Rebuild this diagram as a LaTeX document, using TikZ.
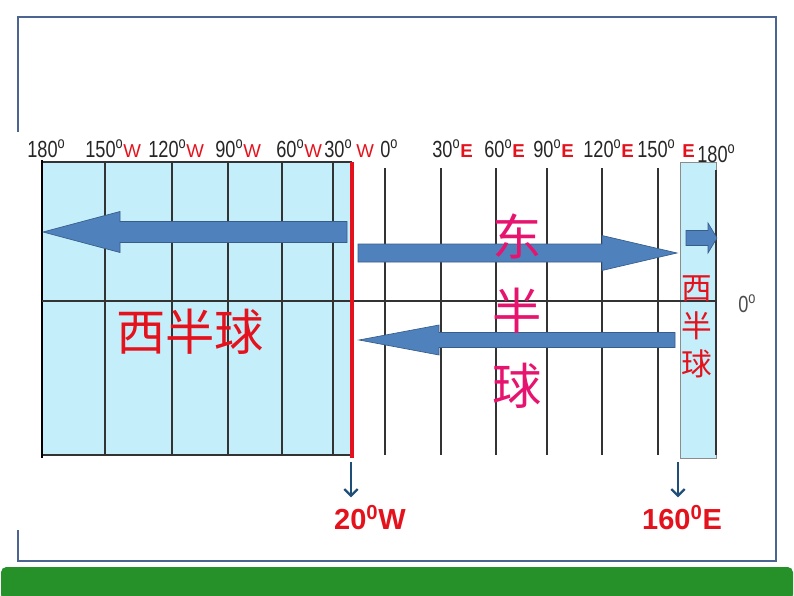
\documentclass[tikz,border=0pt]{standalone}
\usepackage{fontspec}
\setmainfont{Liberation Sans}
\newfontfamily\narrowfont[FakeStretch=0.78]{Liberation Sans}
\newfontfamily\cjkfont{Noto Sans CJK SC}
\usetikzlibrary{arrows.meta}
\definecolor{skyfill}{RGB}{197,238,251}
\definecolor{arrowblue}{RGB}{79,129,189}
\definecolor{arrowedge}{RGB}{56,93,138}
\definecolor{labelred}{RGB}{228,18,28}
\definecolor{eastpink}{RGB}{230,20,110}
\definecolor{framegray}{RGB}{75,100,145}
\definecolor{bargreen}{RGB}{37,145,40}
\definecolor{pointerblue}{RGB}{31,78,121}
\newcommand\westW{{\color{labelred}\rmfamily\fontsize{14}{16}\selectfont W}}
\newcommand\eastE{{\color{labelred}\rmfamily\bfseries\fontsize{14}{16}\selectfont E}}
% block arrow: tail x, tip x, y, shaft half, head half, head base x
\newcommand\blockarrow[6]{%
  \draw[block-arrow] (#1,{#3-#4}) -- (#6,{#3-#4}) -- (#6,{#3-#5}) -- (#2,#3)
    -- (#6,{#3+#5}) -- (#6,{#3+#4}) -- (#1,{#3+#4}) -- cycle;}
\tikzset{
    grid-line/.style = {draw=black!80, line width=1.1pt},
    block-arrow/.style = {fill=arrowblue, draw=arrowedge, line width=0.5pt},
    deg-label/.style = {font=\narrowfont\fontsize{17.5}{19}\selectfont, text=black!85, inner sep=0pt, anchor=base west},
    hemi-text/.style = {font=\cjkfont\fontsize{37}{56}\selectfont, inner sep=0pt, align=center},
    strip-text/.style = {font=\cjkfont\fontsize{23}{28.5}\selectfont, inner sep=0pt, align=center, text=labelred},
    pointer/.style = {draw=pointerblue, line width=1.5pt, -{Straight Barb[length=5pt,width=10pt,line width=1.8pt]}},
    meridian-label/.style = {font=\bfseries\fontsize{21.75}{24}\selectfont, text=labelred, inner sep=0pt},
}

\begin{document}
\begin{tikzpicture}[x=0.75pt, y=-0.75pt]
\useasboundingbox (0,0) rectangle (794,596);

% frame and bottom bar
\draw[framegray, line width=1.2pt] (18,132) -- (18,17) -- (776,17) -- (776,561) -- (18,561) -- (18,530);
\fill[bargreen, rounded corners=4pt] (1,567) rectangle (793,600);

% western hemisphere band
\fill[skyfill] (42,162) rectangle (352,455);
\draw[grid-line] (42,162) -- (352,162);
\draw[grid-line] (42,455) -- (352,455);
\foreach \x in {105,172,228,282,333}
    \draw[grid-line] (\x,162) -- (\x,455);
\draw[black, line width=2.2pt] (42,160) -- (42,458);

% eastern meridians
\foreach \x in {385,441,496,547,602,658}
    \draw[grid-line] (\x,168) -- (\x,455);

% strip east of 160E
\fill[skyfill, draw=black!45, line width=0.6pt] (680,162) rectangle (716,458);
\draw[grid-line] (716,170) -- (716,455);

% equator
\draw[grid-line] (42,301) -- (716,301);

% 20W meridian
\draw[labelred, line width=2.3pt] (352,162) -- (352,458);

% top labels
\node[deg-label] (lab180w) at (27,157) {180\textsuperscript{o}};
\node[deg-label] (lab150w) at (85,157) {150\textsuperscript{o}\westW};
\node[deg-label] (lab120w) at (148,157) {120\textsuperscript{o}\westW};
\node[deg-label] (lab90w) at (215,157) {90\textsuperscript{o}\westW};
\node[deg-label] (lab60w) at (276,157) {60\textsuperscript{o}\westW};
\node[deg-label] (lab30w) at (324,157) {30\textsuperscript{o}};
\node[deg-label] (labw) at (356,157) {\westW};
\node[deg-label] (lab0) at (380,157) {0\textsuperscript{o}};
\node[deg-label] (lab30e) at (432,157) {30\textsuperscript{o}\eastE};
\node[deg-label] (lab60e) at (484,157) {60\textsuperscript{o}\eastE};
\node[deg-label] (lab90e) at (533,157) {90\textsuperscript{o}\eastE};
\node[deg-label] (lab120e) at (583,157) {120\textsuperscript{o}\eastE};
\node[deg-label] (lab150e) at (637,157) {150\textsuperscript{o}};
\node[deg-label] (labe) at (682,157) {\eastE};
\node[deg-label] (lab180e) at (697,162) {180\textsuperscript{o}};
\node[deg-label, text=black!70] (labeq) at (738,312) {0\textsuperscript{o}};

% block arrows
\blockarrow{347}{43}{232}{10.5}{20.5}{120}
\blockarrow{358}{677}{253}{9}{17.5}{602}
\blockarrow{675}{359}{340}{7.5}{15}{439}
\blockarrow{686}{717}{238}{7.5}{15}{708}

% hemisphere names
\node[hemi-text, text=labelred] (westname) at (190,332) {西半球};
\node[hemi-text, text=eastpink] (eastname) at (517,311) {东\\半\\球};
\node[strip-text] (stripname) at (697,327) {西\\半\\球};

% pointers to the dividing meridians
\node[meridian-label] (m20w) at (370,518) {20\textsuperscript{0}W};
\node[meridian-label] (m160e) at (682,518) {160\textsuperscript{0}E};
\coordinate (p20w) at (351,462);
\coordinate (p160e) at (678,462);
\draw[pointer, shorten >=6pt] (p20w) -- (p20w |- m20w.north);
\draw[pointer, shorten >=6pt] (p160e) -- (p160e |- m160e.north);
\end{tikzpicture}
\end{document}
